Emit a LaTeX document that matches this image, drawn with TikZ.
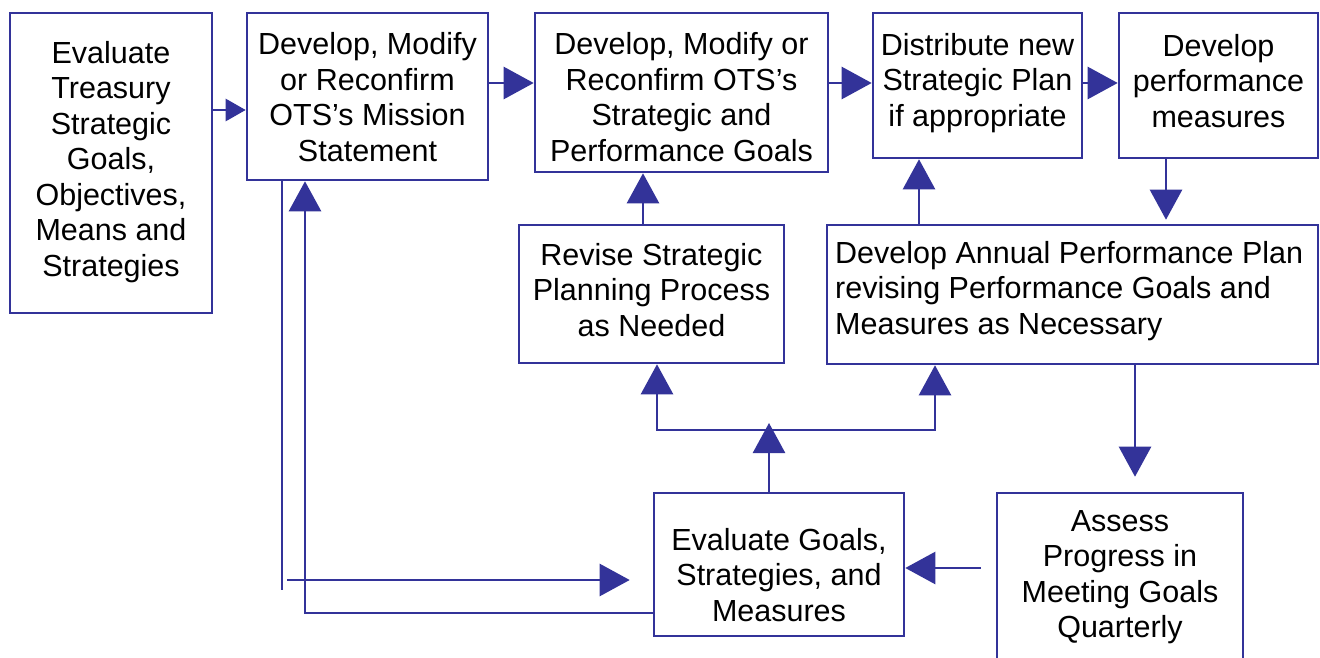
\documentclass[tikz,border=0pt]{standalone}
\usepackage{fontspec}
\setmainfont{Liberation Sans}
\usetikzlibrary{arrows.meta}
\definecolor{dblue}{HTML}{333399}
\begin{document}
\begin{tikzpicture}[x=1pt,y=-1pt,
  box/.style={draw=dblue,line width=2.6pt,inner sep=0pt,rectangle},
  txt/.style={font=\fontsize{30.5pt}{35.5pt}\selectfont,align=center,inner sep=0pt,text=black},
  conn/.style={draw=dblue,line width=2.6pt},
  arr/.style={conn,-{Triangle[length=30pt,width=32pt]}},
  arrsmall/.style={conn,-{Triangle[length=20pt,width=22pt]}}]
\clip (0,0) rectangle (1320,658);
\fill[white] (0,0) rectangle (1320,658);
% boxes
\node[box,minimum width=202pt,minimum height=300pt] (b1) at (111,163) {};
\node[box,minimum width=241pt,minimum height=167pt] (b2) at (367.5,96.5) {};
\node[box,minimum width=293pt,minimum height=159pt] (b3) at (681.5,92.5) {};
\node[box,minimum width=209pt,minimum height=145pt] (b4) at (977.5,85.5) {};
\node[box,minimum width=199pt,minimum height=145pt] (b5) at (1218.5,85.5) {};
\node[box,minimum width=265pt,minimum height=138pt] (b6) at (651.5,294) {};
\node[box,minimum width=491pt,minimum height=139pt] (b7) at (1072.5,294.5) {};
\node[box,minimum width=250pt,minimum height=143pt] (b8) at (779,564.5) {};
\node[box,minimum width=246pt,minimum height=207pt] (b9) at (1120,596.5) {};
% texts
\node[txt] (t1) at (111,162) {Evaluate\\Treasury\\Strategic\\Goals,\\Objectives,\\Means and\\Strategies};
\node[txt] (t2) at (367.5,97) {Develop, Modify\\or Reconfirm\\OTS’s Mission\\Statement};
\node[txt] (t3) at (681.5,97) {Develop, Modify or\\Reconfirm OTS’s\\Strategic and\\Performance Goals};
\node[txt] (t4) at (977.5,83) {Distribute new\\Strategic Plan\\if appropriate};
\node[txt] (t5) at (1218.5,81) {Develop\\performance\\measures};
\node[txt] (t6) at (651.5,290) {Revise Strategic\\Planning Process\\as Needed};
\node[txt,align=left,anchor=west] (t7) at (835,291) {Develop Annual Performance Plan\\revising Performance Goals and\\Measures as Necessary};
\node[txt] (t8) at (779,575) {Evaluate Goals,\\Strategies, and\\Measures};
\node[txt] (t9) at (1120,577) {Assess\\Progress in\\Meeting Goals\\Quarterly};
% helper coordinates
\coordinate (ya) at (0,110);
\coordinate (yb) at (0,83);
\coordinate (xa) at (643,0);
\coordinate (xc) at (919,0);
\coordinate (xd) at (1166,0);
\coordinate (xe) at (1135,0);
\coordinate (yf) at (0,568);
\coordinate (jn) at (769,430);
\coordinate (jl) at (657,430);
\coordinate (jr) at (935,430);
\coordinate (xl) at (282,0);
\coordinate (lend) at (282,590);
\coordinate (ls) at (287,580);
\coordinate (lc) at (305,613);
% connectors
\draw[arrsmall] (b1.east |- ya) -- (b2.west |- ya);
\draw[arr] (b2.east |- yb) -- (b3.west |- yb);
\draw[arr] (b3.east |- yb) -- (b4.west |- yb);
\draw[arr] (b4.east |- yb) -- (b5.west |- yb);
\draw[arr] (b6.north -| xa) -- (b3.south -| xa);
\draw[arr] (b7.north -| xc) -- (b4.south -| xc);
\draw[arr,shorten >=4pt] (b5.south -| xd) -- (b7.north -| xd);
\draw[arr,shorten >=15pt] (b7.south -| xe) -- (b9.north -| xe);
\draw[arr,shorten <=15pt] (b9.west |- yf) -- (b8.east |- yf);
\draw[arr] (b8.north -| jn) -- ([yshift=7pt]jn);
\draw[conn,line cap=rect] (jl) -- (jr);
\draw[arr] (jl) -- (b6.south -| jl);
\draw[arr] (jr) -- (b7.south -| jr);
\draw[conn] (b2.south -| xl) -- (lend);
\draw[arr,shorten >=23pt] (ls) -- (b8.west |- ls);
\draw[arr] (b8.west |- lc) -| (b2.south -| lc);
\end{tikzpicture}
\end{document}
